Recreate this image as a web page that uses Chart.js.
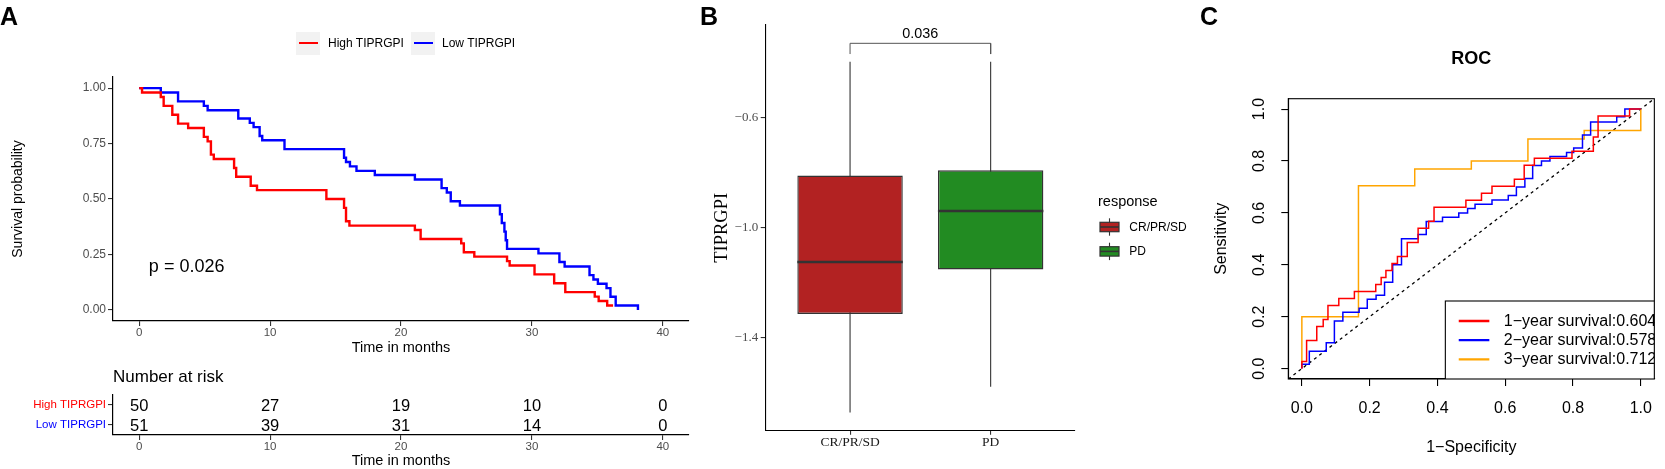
<!DOCTYPE html>
<html><head><meta charset="utf-8">
<script src="https://cdn.jsdelivr.net/npm/chart.js@4.4.1/dist/chart.umd.min.js"></script>
<style>
html,body{margin:0;padding:0;background:#fff;width:1665px;height:469px;overflow:hidden;}
body{position:relative;font-family:"Liberation Sans",Arial,sans-serif;}
canvas{position:absolute;}
.lbl{position:absolute;font-weight:bold;font-size:25px;line-height:25px;color:#000;}
.key{position:absolute;background:#F2F2F2;}
.kl{position:absolute;height:2.4px;}
.kt{position:absolute;font-size:12px;line-height:14px;color:#000;white-space:nowrap;}
</style></head><body>
<canvas id="km" width="700" height="360" style="left:0;top:0"></canvas>
<canvas id="risk" width="700" height="110" style="left:0;top:360px"></canvas>
<canvas id="box" width="510" height="469" style="left:690px;top:0"></canvas>
<canvas id="roc" width="505" height="469" style="left:1160px;top:0"></canvas>
<div class="lbl" style="left:0;top:4px">A</div>
<div class="lbl" style="left:700px;top:4px">B</div>
<div class="lbl" style="left:1200px;top:4px">C</div>
<div class="key" style="left:296px;top:32px;width:24px;height:23px"></div>
<div class="kl" style="left:299px;top:42px;width:18.5px;background:#FF0000"></div>
<div class="kt" style="left:328px;top:36px">High TIPRGPI</div>
<div class="key" style="left:411px;top:32px;width:24px;height:23px"></div>
<div class="kl" style="left:414px;top:42px;width:18.5px;background:#0000FF"></div>
<div class="kt" style="left:442px;top:36px">Low TIPRGPI</div>
<script>
// ---------- Panel A: Kaplan-Meier ----------
const kmGroups = ['High TIPRGPI', 'Low TIPRGPI'];
const kmColors = ['#FF0000', '#0000FF'];
const highTime = [0,0.22,1.65,1.87,2.53,2.97,3.74,4.94,5.23,5.48,5.70,7.25,7.41,8.52,9.0,14.3,15.65,15.8,16.06,21.06,21.5,24.6,24.8,25.6,28.1,28.3,30.2,31.7,32.55,34.8,35.1,35.75,36.2];
const highSurv = [1,0.98,0.96,0.92,0.88,0.84,0.82,0.78,0.76,0.70,0.68,0.64,0.60,0.56,0.54,0.50,0.46,0.40,0.38,0.36,0.32,0.30,0.26,0.24,0.22,0.20,0.16,0.12,0.08,0.06,0.04,0.02,0.02];
const lowTime = [0,1.65,2.97,4.94,5.23,7.57,8.45,8.74,9.2,9.4,11.1,15.65,15.8,16.1,16.6,18.0,21.06,23.1,23.5,23.8,24.5,27.56,27.7,27.9,28.0,28.1,30.5,32.1,32.5,34.4,34.7,35.04,35.7,36.0,36.4,38.1];
const lowSurv = [1,0.98,0.94,0.92,0.90,0.863,0.843,0.824,0.784,0.765,0.725,0.686,0.667,0.647,0.627,0.608,0.588,0.549,0.529,0.490,0.471,0.431,0.392,0.353,0.314,0.275,0.255,0.216,0.196,0.157,0.137,0.118,0.098,0.059,0.020,0.0];
const kmTicksX = [0,10,20,30,40];
const kmTicksY = [0,0.25,0.5,0.75,1];
const pValueText = 'p = 0.026';
const pValuePos = [0.74, 0.195];

// risk table
const riskTimes = [0,10,20,30,40];
const riskHigh = [50,27,19,10,0];
const riskLow = [51,39,31,14,0];

// ---------- Panel B: boxplot ----------
const boxGroups = ['CR/PR/SD','PD'];
const boxLo  = [-1.673,-1.580];
const boxQ1  = [-1.315,-1.153];
const boxMed = [-1.126,-0.941];
const boxQ3  = [-0.812,-0.793];
const boxHi  = [-0.398,-0.398];
const boxColors = ['#B22222','#228B22'];
const boxTicksY = [-1.4,-1.0,-0.6];
const sigText = '0.036';
const sigY = -0.331, sigTip = -0.370;

// ---------- Panel C: ROC ----------
const rocLabels = ['1\u2212year survival:0.604','2\u2212year survival:0.578','3\u2212year survival:0.712'];
const rocColors = ['#FF0000','#0000FF','#FFA500'];
const roc1Fpr = [0,0,0.014,0.044,0.063,0.077,0.109,0.155,0.218,0.234,0.248,0.266,0.282,0.311,0.343,0.374,0.390,0.484,0.530,0.561,0.627,0.656,0.686,0.797,0.860,0.874,0.967,1.0];
const roc1Tpr = [0,0.027,0.108,0.162,0.189,0.243,0.270,0.297,0.324,0.351,0.378,0.405,0.432,0.486,0.541,0.568,0.622,0.649,0.676,0.703,0.730,0.784,0.811,0.838,0.892,0.973,1.0,1.0];
const roc2Fpr = [0,0,0.022,0.072,0.096,0.121,0.169,0.193,0.219,0.244,0.268,0.294,0.343,0.367,0.415,0.463,0.489,0.511,0.561,0.609,0.633,0.658,0.681,0.707,0.732,0.781,0.802,0.828,0.852,0.929,0.953,1.0];
const roc2Tpr = [0,0.017,0.067,0.100,0.183,0.217,0.233,0.267,0.283,0.333,0.400,0.500,0.517,0.567,0.583,0.600,0.617,0.633,0.650,0.667,0.700,0.733,0.783,0.800,0.817,0.833,0.850,0.900,0.950,0.970,1.0,1.0];
const roc3Fpr = [0,0,0.167,0.333,0.5,0.667,0.833,1.0];
const roc3Tpr = [0,0.2,0.705,0.769,0.8,0.885,0.917,1.0];
const rocTicks = [0,0.2,0.4,0.6,0.8,1.0];

Chart.defaults.font.family = '"Liberation Sans", Arial, sans-serif';
const SANS = '"Liberation Sans", Arial, sans-serif';
const SERIF = '"Liberation Serif", "Times New Roman", serif';
const pts = (xs, ys) => xs.map((x, i) => ({x: x, y: ys[i]}));
const setTicks = arr => (s => { s.ticks = arr.map(v => ({value: v})); });
const base = {responsive:false, animation:false, events:[], devicePixelRatio:1};

// ===== KM =====
const kmPlugin = {
  id:'kmText',
  afterDraw(chart){
    const {ctx, scales:{x, y}} = chart;
    ctx.save();
    ctx.font = '18px ' + SANS; ctx.fillStyle = '#000';
    ctx.textAlign = 'left'; ctx.textBaseline = 'middle';
    ctx.fillText(pValueText, x.getPixelForValue(pValuePos[0]), y.getPixelForValue(pValuePos[1]));
    ctx.restore();
  }
};
const axisGrid = {drawOnChartArea:false, drawTicks:true, tickLength:5, color:'#333', lineWidth:1.1, offset:false};
const axisBorder = {display:true, color:'#000', width:1.2};
new Chart(document.getElementById('km'), {
  type:'line',
  data:{datasets:[
    {label:kmGroups[0], data:pts(highTime, highSurv), borderColor:kmColors[0], borderWidth:2.4, stepped:true, pointRadius:0, fill:false},
    {label:kmGroups[1], data:pts(lowTime, lowSurv), borderColor:kmColors[1], borderWidth:2.4, stepped:true, pointRadius:0, fill:false}
  ]},
  options:Object.assign({}, base, {
    layout:{padding:{left:0, top:77, right:11, bottom:0}},
    plugins:{legend:{display:false}, tooltip:{enabled:false}},
    scales:{
      x:{type:'linear', min:-2, max:42, afterBuildTicks:setTicks(kmTicksX), afterFit:s=>{s.height=39;},
         grid:axisGrid, border:axisBorder,
         ticks:{font:{size:11.5}, color:'#4D4D4D', padding:0, maxRotation:0, autoSkip:false, callback:v=>String(v)},
         title:{display:true, text:'Time in months', font:{size:14.5}, color:'#000', padding:{top:0, bottom:3}}},
      y:{type:'linear', min:-0.05, max:1.05, afterBuildTicks:setTicks(kmTicksY), afterFit:s=>{s.width=113;},
         grid:axisGrid, border:axisBorder,
         ticks:{font:{size:12}, color:'#4D4D4D', padding:2, autoSkip:false, callback:v=>v.toFixed(2)},
         title:{display:true, text:'Survival probability', font:{size:14}, color:'#000', padding:{top:10, bottom:0}}}
    }
  }),
  plugins:[kmPlugin]
});

// ===== Risk table =====
const riskPlugin = {
  id:'riskText',
  afterDraw(chart){
    const {ctx, scales:{x, y}, chartArea} = chart;
    ctx.save();
    ctx.fillStyle = '#000'; ctx.textAlign = 'center'; ctx.textBaseline = 'middle';
    ctx.font = '16.5px ' + SANS;
    [riskHigh, riskLow].forEach((row, g) => {
      row.forEach((n, i) => ctx.fillText(String(n), x.getPixelForValue(riskTimes[i]), y.getPixelForValue(g) + 1));
    });
    ctx.font = '17px ' + SANS; ctx.textAlign = 'left';
    ctx.fillText('Number at risk', chartArea.left, chartArea.top - 17.7);
    ctx.restore();
  }
};
new Chart(document.getElementById('risk'), {
  type:'scatter',
  data:{datasets:[]},
  options:Object.assign({}, base, {
    layout:{padding:{left:0, top:35, right:11, bottom:0}},
    plugins:{legend:{display:false}, tooltip:{enabled:false}},
    scales:{
      x:{type:'linear', min:-2, max:42, afterBuildTicks:setTicks(riskTimes), afterFit:s=>{s.height=35;},
         grid:axisGrid, border:axisBorder,
         ticks:{font:{size:11.5}, color:'#4D4D4D', padding:0, maxRotation:0, autoSkip:false, callback:v=>String(v)},
         title:{display:true, text:'Time in months', font:{size:14.5}, color:'#000', padding:{top:0, bottom:0}}},
      y:{type:'category', labels:kmGroups, offset:true, afterFit:s=>{s.width=113;},
         grid:axisGrid, border:axisBorder,
         ticks:{font:{size:11.5}, color:c=>kmColors[c.index], padding:2, autoSkip:false}}
    }
  }),
  plugins:[riskPlugin]
});

// ===== Boxplot =====
const BOX_W = 0.75;
const boxPlugin = {
  id:'boxText',
  afterDraw(chart){
    const {ctx, scales:{x, y}, chartArea} = chart;
    ctx.save();
    ctx.fillStyle = '#000'; ctx.textAlign = 'center'; ctx.textBaseline = 'middle';
    ctx.font = '14.4px ' + SANS;
    ctx.fillText(sigText, x.getPixelForValue(1.5), y.getPixelForValue(sigY) - 9);
    // legend
    const lx = chartArea.right + 23;
    ctx.textAlign = 'left';
    ctx.font = '14.5px ' + SANS;
    ctx.fillText('response', lx, 201.7);
    ctx.font = '12px ' + SANS;
    boxGroups.forEach((g, i) => {
      const cy = 227 + i * 24.4;
      const kx = lx + 2, kw = 19, kh = 9.4, cx = kx + kw / 2;
      ctx.strokeStyle = '#333'; ctx.lineWidth = 1.1;
      ctx.beginPath(); ctx.moveTo(cx, cy - 8.7); ctx.lineTo(cx, cy + 8.7); ctx.stroke();
      ctx.fillStyle = boxColors[i];
      ctx.fillRect(kx, cy - kh / 2, kw, kh);
      ctx.lineWidth = 1.2; ctx.strokeRect(kx, cy - kh / 2, kw, kh);
      ctx.lineWidth = 1.6;
      ctx.beginPath(); ctx.moveTo(kx, cy); ctx.lineTo(kx + kw, cy); ctx.stroke();
      ctx.fillStyle = '#000';
      ctx.fillText(g, lx + 31.3, cy + 0.7);
    });
    ctx.restore();
  }
};
const boxDatasets = [
  {type:'bar', data:boxGroups.map((g, i) => ({x:i + 1, y:[boxQ1[i], boxQ3[i]]})),
   backgroundColor:boxColors, borderColor:'#333333', borderWidth:1.4, borderSkipped:false,
   categoryPercentage:BOX_W, barPercentage:1, order:2}
];
boxGroups.forEach((g, i) => {
  boxDatasets.push({type:'line', data:[{x:i + 1, y:boxLo[i]}, {x:i + 1, y:boxHi[i]}],
    borderColor:'#333333', borderWidth:1.1, pointRadius:0, order:3});
  boxDatasets.push({type:'line', data:[{x:i + 1 - BOX_W / 2, y:boxMed[i]}, {x:i + 1 + BOX_W / 2, y:boxMed[i]}],
    borderColor:'#333333', borderWidth:2.5, pointRadius:0, order:1});
});
boxDatasets.push({type:'line', data:[{x:1, y:sigTip}, {x:1, y:sigY}, {x:2, y:sigY}, {x:2, y:sigTip}],
  borderColor:'#555555', borderWidth:1, pointRadius:0, order:0});
new Chart(document.getElementById('box'), {
  type:'bar',
  data:{datasets:boxDatasets},
  options:Object.assign({}, base, {
    layout:{padding:{left:0, top:25, right:125, bottom:0}},
    plugins:{legend:{display:false}, tooltip:{enabled:false}},
    scales:{
      x:{type:'linear', min:0.4, max:2.6, offset:false, afterBuildTicks:setTicks([1, 2]), afterFit:s=>{s.height=38.3;},
         grid:Object.assign({}, axisGrid, {tickLength:4}), border:{display:true, color:'#000', width:1.1},
         ticks:{font:{family:SERIF, size:13.5}, color:'#1A1A1A', padding:0, maxRotation:0, autoSkip:false,
                callback:(v, i) => boxGroups[i]}},
      y:{type:'linear', min:-1.7396, max:-0.2644, beginAtZero:false, afterBuildTicks:setTicks(boxTicksY), afterFit:s=>{s.width=75.7;},
         grid:axisGrid, border:{display:true, color:'#000', width:1.1},
         ticks:{font:{family:SERIF, size:13}, color:'#4D4D4D', padding:2.5, autoSkip:false,
                callback:v => v.toFixed(1).replace('-', '\u2212')},
         title:{display:true, text:'TIPRGPI', font:{family:SERIF, size:18.5}, color:'#000', padding:{top:20.6, bottom:0}}}
    }
  }),
  plugins:[boxPlugin]
});

// ===== ROC =====
const rocPlugin = {
  id:'rocExtras',
  afterDatasetsDraw(chart){
    const {ctx, chartArea} = chart;
    ctx.save();
    ctx.beginPath(); ctx.rect(chartArea.left, chartArea.top, chartArea.right - chartArea.left, chartArea.bottom - chartArea.top); ctx.clip();
    const bx = chartArea.right - 209, by = chartArea.top + 202.3;
    ctx.fillStyle = '#fff';
    ctx.fillRect(bx, by, chartArea.right - bx, chartArea.bottom - by);
    ctx.strokeStyle = '#000'; ctx.lineWidth = 1.1;
    ctx.strokeRect(bx, by, chartArea.right - bx + 5, chartArea.bottom - by + 5);
    ctx.font = '16px ' + SANS; ctx.textAlign = 'left'; ctx.textBaseline = 'middle';
    chart.data.datasets.slice(0, 3).forEach((ds, i) => {
      const ly = by + 20 + i * 19.2;
      ctx.strokeStyle = ds.borderColor; ctx.lineWidth = 2.3;
      ctx.beginPath(); ctx.moveTo(bx + 13.4, ly); ctx.lineTo(bx + 44, ly); ctx.stroke();
      ctx.fillStyle = '#000';
      ctx.fillText(ds.label, bx + 58.4, ly + 0.5);
    });
    ctx.restore();
  },
  afterDraw(chart){
    const {ctx, chartArea} = chart;
    ctx.save();
    ctx.strokeStyle = '#000'; ctx.lineWidth = 1.1;
    ctx.strokeRect(chartArea.left, chartArea.top, chartArea.right - chartArea.left, chartArea.bottom - chartArea.top);
    ctx.restore();
  }
};
const rocGrid = {drawOnChartArea:false, drawTicks:true, tickLength:7, color:'#000', lineWidth:1.1, offset:false};
new Chart(document.getElementById('roc'), {
  type:'line',
  data:{datasets:[
    {label:rocLabels[0], data:pts(roc1Fpr, roc1Tpr), borderColor:rocColors[0], borderWidth:1.5, stepped:true, pointRadius:0, fill:false, order:1},
    {label:rocLabels[1], data:pts(roc2Fpr, roc2Tpr), borderColor:rocColors[1], borderWidth:1.5, stepped:true, pointRadius:0, fill:false, order:1},
    {label:rocLabels[2], data:pts(roc3Fpr, roc3Tpr), borderColor:rocColors[2], borderWidth:1.5, stepped:true, pointRadius:0, fill:false, order:1},
    {label:'reference', data:[{x:-0.04, y:-0.04}, {x:1.04, y:1.04}], borderColor:'#000', borderWidth:1.3, borderDash:[3, 3.5], pointRadius:0, fill:false, order:2}
  ]},
  options:Object.assign({}, base, {
    layout:{padding:{left:0, top:0, right:2.7, bottom:0}},
    plugins:{legend:{display:false}, tooltip:{enabled:false},
      title:{display:true, text:'ROC', fullSize:false, color:'#000', font:{size:18, weight:'bold'}, padding:{top:48.2, bottom:28.9}}},
    scales:{
      x:{type:'linear', min:-0.04, max:1.04, afterBuildTicks:setTicks(rocTicks), afterFit:s=>{s.height=90;},
         grid:rocGrid, border:{display:true, color:'#000', width:1.1},
         ticks:{font:{size:16}, color:'#000', padding:12.7, maxRotation:0, autoSkip:false, callback:v=>v.toFixed(1)},
         title:{display:true, text:'1\u2212Specificity', font:{size:16}, color:'#000', padding:{top:0, bottom:12.1}}},
      y:{type:'linear', min:-0.04, max:1.04, afterBuildTicks:setTicks(rocTicks), afterFit:s=>{s.width=128.3;},
         grid:rocGrid, border:{display:true, color:'#000', width:1.1},
         ticks:{font:{size:16}, color:'#000', padding:10.2, minRotation:90, maxRotation:90, crossAlign:'center', autoSkip:false, callback:v=>v.toFixed(1)},
         title:{display:true, text:'Sensitivity', font:{size:16}, color:'#000', padding:{top:52.1, bottom:0}}}
    }
  }),
  plugins:[rocPlugin]
});
</script>
</body></html>
